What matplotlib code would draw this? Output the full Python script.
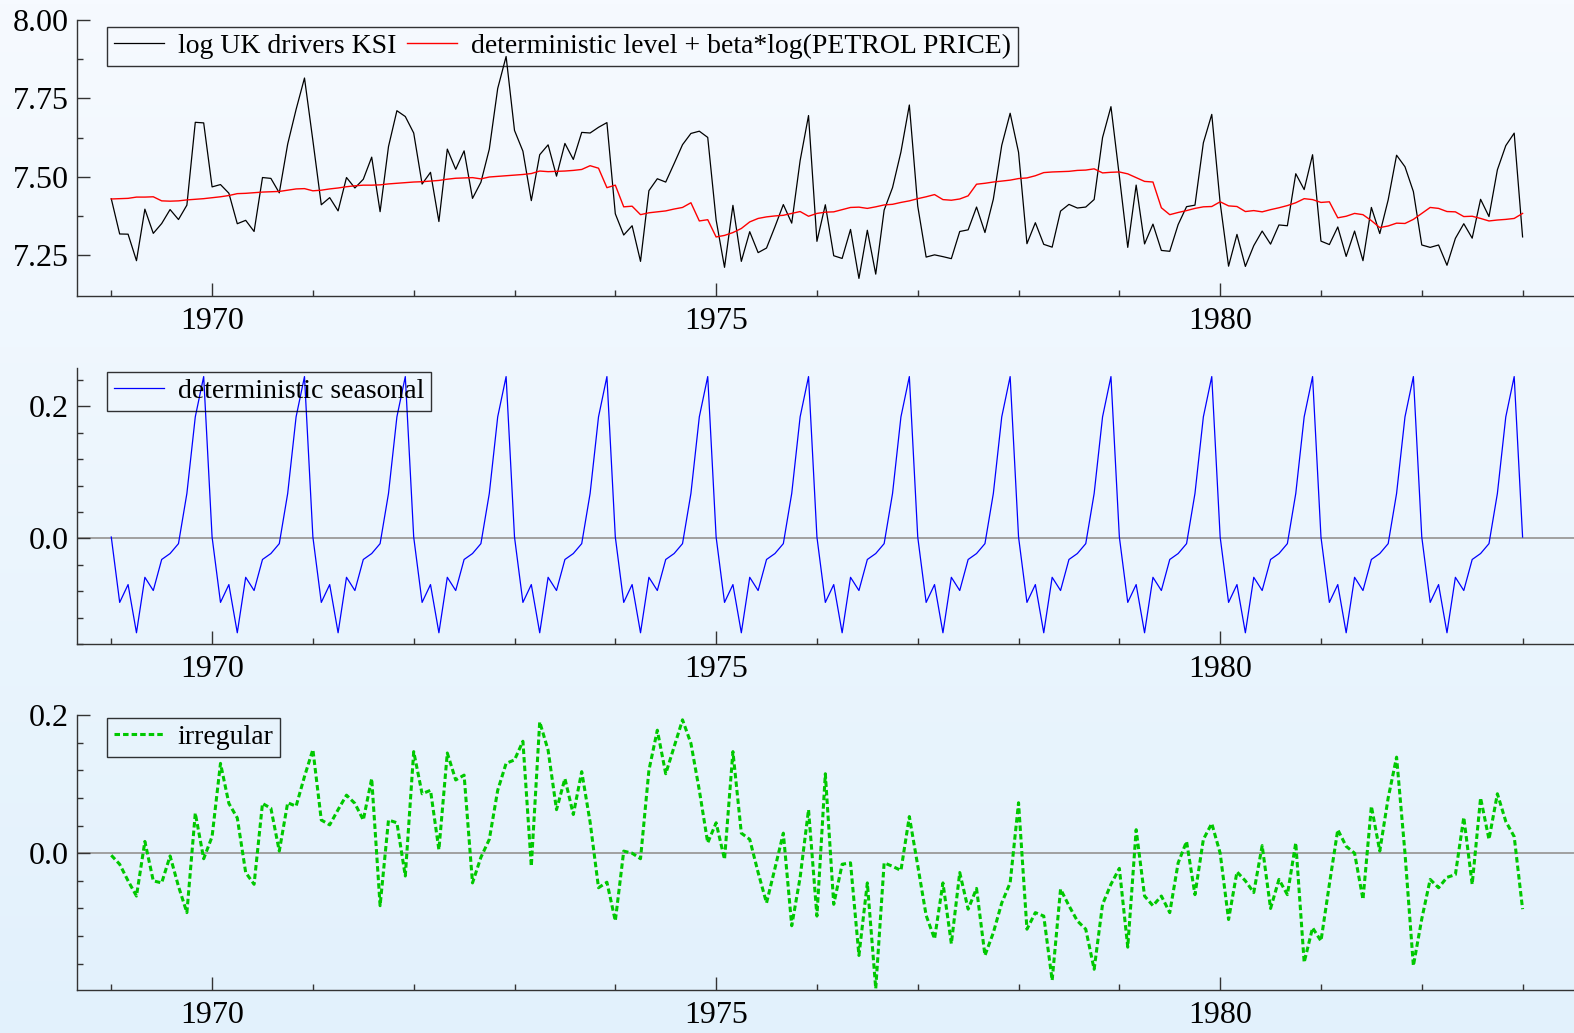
import numpy as np
import matplotlib
matplotlib.use('Agg')
import matplotlib.pyplot as plt
from matplotlib.ticker import FixedLocator, MultipleLocator, FormatStrFormatter

plt.rcParams['font.family'] = ['Liberation Serif', 'DejaVu Serif']

start_year = 1969

# UK car drivers killed or seriously injured, Jan 1969 - Jan 1983
ksi = [1687, 1508, 1507, 1385, 1632, 1511, 1559, 1630, 1579, 1653, 2152, 2148,
       1752, 1765, 1717, 1558, 1575, 1520, 1805, 1800, 1719, 2008, 2242, 2478,
       2030, 1655, 1693, 1623, 1805, 1746, 1795, 1926, 1619, 1992, 2233, 2192,
       2080, 1768, 1835, 1569, 1976, 1853, 1965, 1689, 1778, 1976, 2397, 2654,
       2097, 1963, 1677, 1941, 2003, 1813, 2012, 1912, 2084, 2080, 2118, 2150,
       1608, 1503, 1548, 1382, 1731, 1798, 1779, 1887, 2004, 2077, 2092, 2051,
       1577, 1356, 1652, 1382, 1519, 1421, 1442, 1543, 1656, 1561, 1905, 2199,
       1473, 1655, 1407, 1395, 1530, 1309, 1526, 1327, 1627, 1748, 1958, 2274,
       1648, 1401, 1411, 1403, 1394, 1520, 1528, 1643, 1515, 1685, 2000, 2215,
       1956, 1462, 1563, 1459, 1446, 1622, 1657, 1638, 1643, 1683, 2050, 2262,
       1813, 1445, 1762, 1461, 1556, 1431, 1427, 1554, 1645, 1653, 2016, 2207,
       1665, 1361, 1506, 1360, 1453, 1522, 1460, 1552, 1548, 1827, 1737, 1941,
       1474, 1458, 1542, 1404, 1522, 1385, 1641, 1510, 1681, 1938, 1868, 1726,
       1456, 1445, 1456, 1365, 1487, 1558, 1488, 1684, 1594, 1850, 1998, 2079,
       1494]

# deterministic level + beta*log(petrol price)
level = [7.430, 7.431, 7.432, 7.436, 7.436, 7.437, 7.424, 7.423, 7.424, 7.427, 7.429, 7.431,
         7.434, 7.437, 7.441, 7.447, 7.448, 7.450, 7.452, 7.453, 7.454, 7.458, 7.462, 7.463,
         7.456, 7.458, 7.462, 7.465, 7.469, 7.472, 7.474, 7.474, 7.475, 7.478, 7.480, 7.482,
         7.484, 7.485, 7.487, 7.489, 7.493, 7.496, 7.497, 7.498, 7.494, 7.500, 7.502, 7.504,
         7.506, 7.508, 7.511, 7.519, 7.517, 7.518, 7.519, 7.521, 7.524, 7.536, 7.528, 7.466,
         7.474, 7.405, 7.407, 7.380, 7.386, 7.389, 7.392, 7.398, 7.403, 7.418, 7.360, 7.364,
         7.309, 7.314, 7.323, 7.336, 7.357, 7.368, 7.373, 7.376, 7.378, 7.384, 7.390, 7.375,
         7.384, 7.388, 7.389, 7.396, 7.403, 7.404, 7.400, 7.405, 7.411, 7.413, 7.419, 7.424,
         7.431, 7.437, 7.444, 7.428, 7.426, 7.430, 7.440, 7.477, 7.480, 7.484, 7.487, 7.490,
         7.495, 7.497, 7.504, 7.514, 7.516, 7.517, 7.518, 7.521, 7.522, 7.526, 7.513, 7.515,
         7.516, 7.510, 7.498, 7.486, 7.484, 7.402, 7.380, 7.387, 7.393, 7.400, 7.405, 7.406,
         7.421, 7.408, 7.406, 7.390, 7.393, 7.389, 7.396, 7.402, 7.409, 7.418, 7.431, 7.428,
         7.419, 7.421, 7.370, 7.375, 7.384, 7.380, 7.361, 7.339, 7.344, 7.353, 7.352, 7.365,
         7.384, 7.403, 7.400, 7.390, 7.389, 7.374, 7.375, 7.368, 7.360, 7.363, 7.365, 7.368,
         7.384]

# Jan..Dec seasonal effects
seasonal_pattern = [0.002, -0.097, -0.070, -0.143, -0.059, -0.079,
                    -0.032, -0.023, -0.008, 0.068, 0.184, 0.245]

irregular = [-0.003, -0.016, -0.040, -0.062, 0.017, -0.040, -0.043, -0.004, -0.048, -0.086, 0.058, -0.008,
             0.024, 0.130, 0.072, 0.051, -0.028, -0.045, 0.072, 0.065, 0.003, 0.073, 0.068, 0.111,
             0.150, 0.048, 0.041, 0.063, 0.084, 0.072, 0.048, 0.108, -0.076, 0.048, 0.044, -0.033,
             0.147, 0.086, 0.091, 0.005, 0.145, 0.106, 0.113, -0.043, -0.006, 0.020, 0.091, 0.130,
             0.135, 0.162, -0.019, 0.190, 0.149, 0.063, 0.108, 0.056, 0.118, 0.045, -0.050, -0.042,
             -0.098, 0.003, 0.000, -0.008, 0.120, 0.178, 0.115, 0.154, 0.193, 0.159, 0.091, 0.015,
             0.044, -0.009, 0.147, 0.029, 0.020, -0.028, -0.072, -0.022, 0.029, -0.105, -0.035, 0.063,
             -0.091, 0.115, -0.074, -0.016, -0.014, -0.148, -0.043, -0.196, -0.014, -0.019, -0.025, 0.053,
             -0.018, -0.090, -0.124, -0.043, -0.131, -0.028, -0.081, -0.051, -0.148, -0.115, -0.072, -0.043,
             0.073, -0.110, -0.086, -0.091, -0.184, -0.052, -0.076, -0.098, -0.110, -0.168, -0.074, -0.045,
             -0.022, -0.136, 0.034, -0.062, -0.076, -0.062, -0.086, -0.014, 0.017, -0.060, 0.020, 0.043,
             0.000, -0.096, -0.027, -0.040, -0.057, 0.011, -0.080, -0.038, -0.060, 0.015, -0.158, -0.108,
             -0.127, -0.045, 0.034, 0.010, 0.000, -0.067, 0.068, 0.003, 0.080, 0.139, 0.000, -0.163,
             -0.095, -0.038, -0.050, -0.035, -0.031, 0.052, -0.045, 0.080, 0.020, 0.086, 0.046, 0.024,
             -0.081]

log_ksi = np.log(ksi)
t = start_year + np.arange(len(ksi)) / 12
seasonal = np.resize(seasonal_pattern, len(ksi))

W, H = 1574, 1033
fig = plt.figure(figsize=(W / 100, H / 100), dpi=100)

# pale blue gradient background
bg = fig.add_axes([0, 0, 1, 1], zorder=-10)
top_col = np.array([246, 250, 255]) / 255
bot_col = np.array([226, 241, 252]) / 255
g = np.linspace(0, 1, 256)[:, None, None]
bg.imshow(top_col + g * (bot_col - top_col), aspect='auto', extent=[0, 1, 0, 1])
bg.axis('off')

left = 77


def panel(top, bottom):
    ax = fig.add_axes([left / W, 1 - bottom / H, 1 - left / W, (bottom - top) / H])
    ax.set_facecolor('none')
    for s in ['top', 'right']:
        ax.spines[s].set_visible(False)
    for s in ['left', 'bottom']:
        ax.spines[s].set_color('#333333')
        ax.spines[s].set_linewidth(1.0)
    ax.set_xlim(1968.66, 1983.51)
    ax.xaxis.set_major_locator(FixedLocator([1970, 1975, 1980]))
    ax.xaxis.set_minor_locator(MultipleLocator(1))
    ax.tick_params(which='both', direction='in', color='#333333', width=1.0,
                   labelsize=23, labelcolor='black')
    ax.tick_params(which='major', length=9.5)
    ax.tick_params(which='minor', length=4.5)
    ax.tick_params(axis='x', pad=8)
    ax.tick_params(axis='y', pad=6)
    return ax


def add_legend(ax, dy, ncol=1):
    leg = ax.legend(loc='upper left', bbox_to_anchor=(30 / (W - left), 1 - dy),
                    borderaxespad=0, ncol=ncol, fontsize=20, frameon=True,
                    fancybox=False, edgecolor='black', facecolor='none',
                    handlelength=1.8, handletextpad=0.5, columnspacing=0.4,
                    borderpad=0.24)
    leg.get_frame().set_linewidth(1.0)
    return leg


ax1 = panel(20, 296)
ax1.plot(t, log_ksi, color='black', lw=0.9, label='log UK drivers KSI')
ax1.plot(t, level, color='#ff0000', lw=1.0, label='deterministic level + beta*log(PETROL PRICE)')
ax1.set_ylim(7.121, 8.0)
ax1.yaxis.set_major_locator(MultipleLocator(0.25))
ax1.yaxis.set_minor_locator(FixedLocator([7.375, 7.625, 7.875]))
ax1.yaxis.set_major_formatter(FormatStrFormatter('%.2f'))
add_legend(ax1, 7 / 276, ncol=2)

ax2 = panel(368, 644)
ax2.axhline(0, color='#a0a0a0', lw=1.4, zorder=1)
ax2.plot(t, seasonal, color='#0000ff', lw=0.9, label='deterministic seasonal', zorder=2)
ax2.set_ylim(-0.160, 0.258)
ax2.yaxis.set_major_locator(MultipleLocator(0.2))
ax2.yaxis.set_minor_locator(MultipleLocator(0.04))
ax2.yaxis.set_major_formatter(FormatStrFormatter('%.1f'))
add_legend(ax2, 4 / 276)

ax3 = panel(715, 990)
ax3.axhline(0, color='#a0a0a0', lw=1.4, zorder=1)
ax3.plot(t, irregular, color='#00c800', lw=2.2, dashes=(1.8, 1.0),
         label='irregular', zorder=2)
ax3.set_ylim(-0.198, 0.2)
ax3.yaxis.set_major_locator(MultipleLocator(0.2))
ax3.yaxis.set_minor_locator(MultipleLocator(0.04))
ax3.yaxis.set_major_formatter(FormatStrFormatter('%.1f'))
add_legend(ax3, 3 / 275)

fig.savefig('out.png', dpi=100)
